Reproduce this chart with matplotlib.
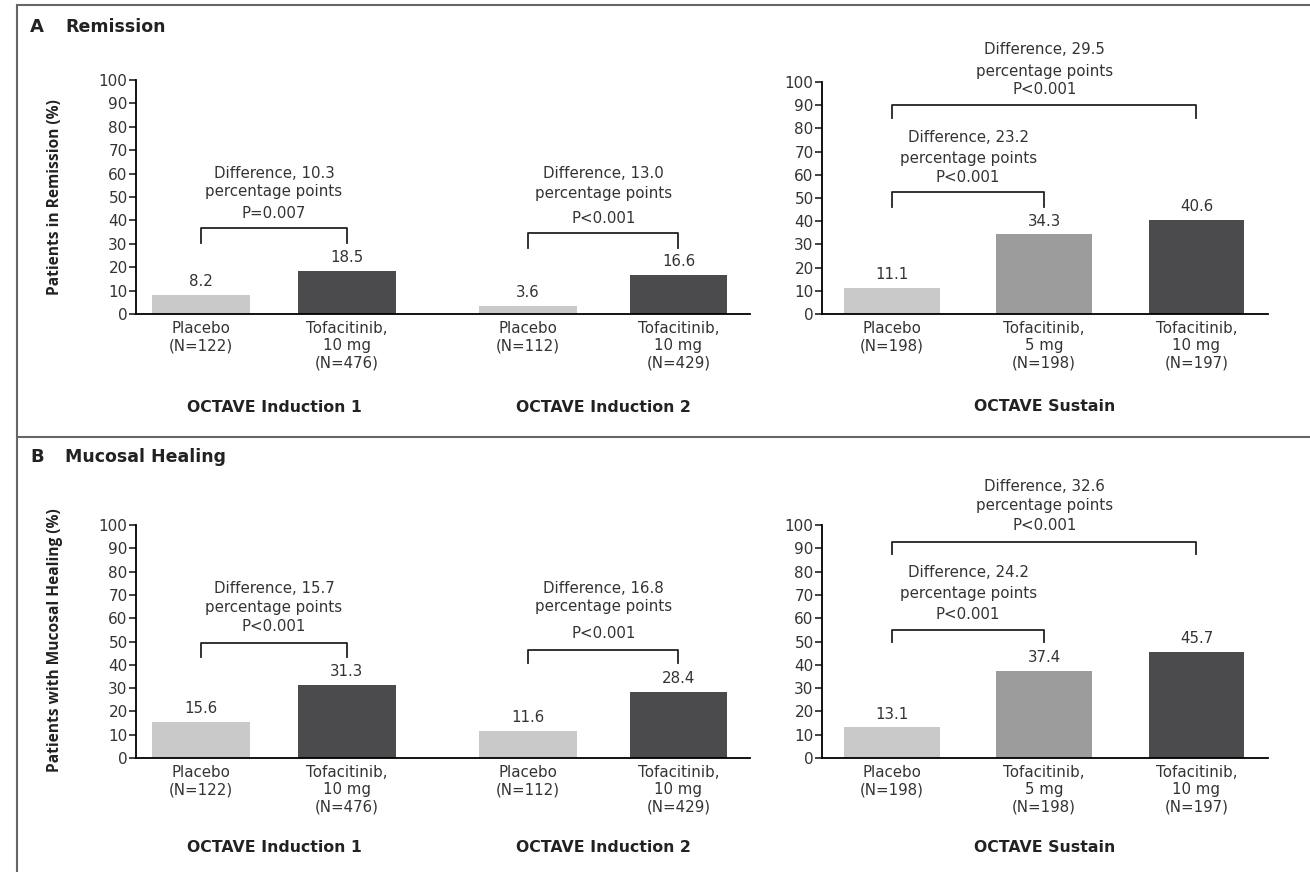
import matplotlib
matplotlib.use('Agg')
import matplotlib.pyplot as plt
from matplotlib.lines import Line2D

plt.rcParams['font.family'] = ['DejaVu Sans']

# data
induction_labels = ['Placebo\n(N=122)', 'Tofacitinib,\n10 mg\n(N=476)',
                    'Placebo\n(N=112)', 'Tofacitinib,\n10 mg\n(N=429)']
sustain_labels = ['Placebo\n(N=198)', 'Tofacitinib,\n5 mg\n(N=198)', 'Tofacitinib,\n10 mg\n(N=197)']
remission_induction = [8.2, 18.5, 3.6, 16.6]
remission_sustain = [11.1, 34.3, 40.6]
healing_induction = [15.6, 31.3, 11.6, 28.4]
healing_sustain = [13.1, 37.4, 45.7]
yticks = list(range(0, 101, 10))

# difference annotations: (bar i, bar j, text, p text, bracket top, leg end, y of 3 text lines)
rem_ind_diff = [(0, 1, 'Difference, 10.3', 'P=0.007', 36.8, 30.3, [60.7, 53, 43.6]),
                (2, 3, 'Difference, 13.0', 'P<0.001', 34.6, 28.2, [60.7, 52, 41.5])]
rem_sus_diff = [(0, 2, 'Difference, 29.5', 'P<0.001', 90, 84.5, [114.6, 105, 97.4]),
                (0, 1, 'Difference, 23.2', 'P<0.001', 52.6, 46, [76.7, 67.7, 59.5])]
heal_ind_diff = [(0, 1, 'Difference, 15.7', 'P<0.001', 49.4, 43.3, [73.4, 65.2, 57]),
                 (2, 3, 'Difference, 16.8', 'P<0.001', 46.4, 40.8, [73.4, 65.7, 54])]
heal_sus_diff = [(0, 2, 'Difference, 32.6', 'P<0.001', 92.7, 87.5, [117, 109, 100.4]),
                 (0, 1, 'Difference, 24.2', 'P<0.001', 55, 49.8, [80.3, 71.2, 62.2])]

c_plac = '#c9c9c9'
c_5mg = '#9c9c9c'
c_10mg = '#4b4b4d'
txtc = '#333333'
fs = 10.8

W, H = 1310, 872
fig = plt.figure(figsize=(W / 100, H / 100), dpi=100)


def axbox(x0, x1, y100, y0):
    return [x0 / W, 1 - y0 / H, (x1 - x0) / W, (y0 - y100) / H]


def setup(ax):
    ax.set_ylim(0, 100)
    ax.set_yticks(yticks)
    ax.spines['top'].set_visible(False)
    ax.spines['right'].set_visible(False)
    ax.spines['left'].set_linewidth(1.3)
    ax.spines['bottom'].set_linewidth(1.3)
    ax.tick_params(axis='y', length=5, width=1.2, labelsize=11, pad=1, colors='#222222')
    ax.tick_params(axis='x', length=0, labelsize=fs, pad=5, labelcolor=txtc)
    for t in ax.get_yticklabels():
        t.set_color(txtc)


def bars(ax, xs, vals, colors, width, labels):
    ax.bar(xs, vals, width=width, color=colors)
    for x, v in zip(xs, vals):
        ax.text(x, v + 2.5, '%.1f' % v, ha='center', va='bottom', fontsize=fs, color=txtc)
    ax.set_xticks(xs)
    ax.set_xticklabels(labels, linespacing=1.2)


def brackets(ax, xs, diffs):
    for i, j, t1, t2, top, leg, ty in diffs:
        ax.plot([xs[i], xs[i], xs[j], xs[j]], [leg, top, top, leg], color='#222222', lw=1.3, clip_on=False)
        xm = (xs[i] + xs[j]) / 2
        for t, y in zip([t1, 'percentage points', t2], ty):
            ax.text(xm, y, t, ha='center', va='center_baseline', fontsize=fs, color=txtc)


xi = [0, 1, 2.24, 3.27]
xs = [0, 1, 2]

panels = [
    (80, 314, remission_induction, remission_sustain, rem_ind_diff, rem_sus_diff, -40),
    (525, 758, healing_induction, healing_sustain, heal_ind_diff, heal_sus_diff, -38.6),
]
for y100, y0, ind, sus, dind, dsus, gy in panels:
    ax1 = fig.add_axes(axbox(136, 750, y100, y0))
    setup(ax1)
    bars(ax1, xi, ind, [c_plac, c_10mg, c_plac, c_10mg], 0.67, induction_labels)
    ax1.set_xlim(-0.445, 3.76)
    brackets(ax1, xi, dind)
    ax1.text(0.5, gy, 'OCTAVE Induction 1', ha='center', va='center', fontsize=11.3, fontweight='bold', color='#222222')
    ax1.text(2.755, gy, 'OCTAVE Induction 2', ha='center', va='center', fontsize=11.3, fontweight='bold', color='#222222')

    ax2 = fig.add_axes(axbox(822, 1268, y100 + 2 * (y100 == 80), y0))
    setup(ax2)
    bars(ax2, xs, sus, [c_plac, c_5mg, c_10mg], 0.63, sustain_labels)
    ax2.set_xlim(-0.46, 2.47)
    brackets(ax2, xs, dsus)
    ax2.text(1, gy, 'OCTAVE Sustain', ha='center', va='center', fontsize=11.3, fontweight='bold', color='#222222')

# y labels and panel titles
fig.text(55 / W, 1 - 197 / H, 'Patients in Remission (%)', rotation=90, ha='center', va='center',
         fontsize=11.2, fontweight='bold', color='#222222', family='Open Sans')
fig.text(55 / W, 1 - 640 / H, 'Patients with Mucosal Healing (%)', rotation=90, ha='center', va='center',
         fontsize=11.2, fontweight='bold', color='#222222', family='Open Sans')
fig.text(30 / W, 1 - 27 / H, 'A', ha='left', va='center', fontsize=13, fontweight='bold', color='#222222')
fig.text(65 / W, 1 - 27 / H, 'Remission', ha='left', va='center', fontsize=12.5, fontweight='bold', color='#222222')
fig.text(30 / W, 1 - 457 / H, 'B', ha='left', va='center', fontsize=13, fontweight='bold', color='#222222')
fig.text(65 / W, 1 - 457 / H, 'Mucosal Healing', ha='left', va='center', fontsize=12.5, fontweight='bold', color='#222222')

# frame lines
lc = '#666666'
fig.add_artist(Line2D([17 / W, 17 / W], [0, 1 - 5 / H], color=lc, lw=1.5))
fig.add_artist(Line2D([17 / W, 1], [1 - 5 / H, 1 - 5 / H], color=lc, lw=1.5))
fig.add_artist(Line2D([17 / W, 1], [1 - 437 / H, 1 - 437 / H], color=lc, lw=1.5))

fig.savefig('out.png', dpi=100, facecolor='white')
